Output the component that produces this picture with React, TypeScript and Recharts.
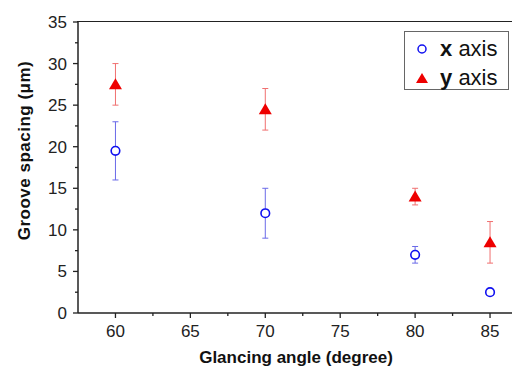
import React from "react";
import { ScatterChart, Scatter, XAxis, YAxis, ErrorBar, Legend, Label } from "recharts";

// glancing angle (degree)
const angles = [60, 70, 80, 85];
// groove spacing (um) measured along each axis, with +/- error
const xAxisSpacing = [19.5, 12, 7, 2.5];
const xAxisError = [3.5, 3, 1, null];
const yAxisSpacing = [27.5, 24.5, 14, 8.5];
const yAxisError = [2.5, 2.5, 1, 2.5];

const angleTicks = [60, 62.5, 65, 67.5, 70, 72.5, 75, 77.5, 80, 82.5, 85];
const spacingTicks = [0, 2.5, 5, 7.5, 10, 12.5, 15, 17.5, 20, 22.5, 25, 27.5, 30, 32.5, 35];

const xData = angles.map((a, i) => ({ angle: a, spacing: xAxisSpacing[i], err: xAxisError[i] }));
const yData = angles.map((a, i) => ({ angle: a, spacing: yAxisSpacing[i], err: yAxisError[i] }));

const BLUE = "#1010f0";
const RED = "#ee0000";
const AXIS = "#222";
const FONT = "'Liberation Sans', Arial, sans-serif";

// chart box
const W = 512;
const H = 359;
const TOP = 14;
const X_AXIS_H = 54;
const Y_AXIS_W = 70;

const BottomTick = (props: any) => {
  const { x, y, payload } = props;
  const major = payload.value % 5 === 0;
  return (
    <g>
      <line x1={x} y1={y} x2={x} y2={y + (major ? 5 : 3)} stroke={AXIS} strokeWidth={1.3} />
      {major && (
        <text x={x} y={y + 23.5} textAnchor="middle" fontSize={17} fontFamily={FONT} fill="#222">
          {payload.value}
        </text>
      )}
    </g>
  );
};

const LeftTick = (props: any) => {
  const { x, y, payload } = props;
  const major = payload.value % 5 === 0;
  return (
    <g>
      <line x1={x} y1={y} x2={x - (major ? 5 : 3)} y2={y} stroke={AXIS} strokeWidth={1.3} />
      {major && (
        <text x={x - 11} y={y + 6} textAnchor="end" fontSize={17} fontFamily={FONT} fill="#222">
          {payload.value}
        </text>
      )}
    </g>
  );
};

const OpenCircle = (props: any) => (
  <circle cx={props.cx} cy={props.cy} r={4.3} fill="#fff" stroke={BLUE} strokeWidth={1.6} />
);

const Triangle = (props: any) => {
  const { cx, cy } = props;
  return <path d={`M${cx},${cy - 6} L${cx + 6.5},${cy + 5} L${cx - 6.5},${cy + 5} Z`} fill={RED} />;
};

const LegendBox = (props: any) => {
  const items = (props.payload || []).filter((it: any) => it.value);
  return (
    <svg width={105} height={59} style={{ display: "block" }}>
      <rect x={0.5} y={0.5} width={104} height={58} fill="#fff" stroke="#666" strokeWidth={1} />
      {items.map((item: any, i: number) => {
        const cy = 18 + i * 29;
        const [first, ...rest] = String(item.value).split(" ");
        return (
          <g key={i}>
            {i === 0 ? (
              <circle cx={18} cy={cy} r={4} fill="#fff" stroke={BLUE} strokeWidth={1.5} />
            ) : (
              <path d={`M18,${cy - 5} L24,${cy + 5} L12,${cy + 5} Z`} fill={RED} />
            )}
            <text x={36} y={cy + 7} fontSize={22} fontFamily={FONT} fill="#111">
              <tspan fontWeight="bold">{first}</tspan> {rest.join(" ")}
            </text>
          </g>
        );
      })}
    </svg>
  );
};

export default function App() {
  return (
    <div style={{ position: "relative", width: W, height: H }}>
      <ScatterChart width={W} height={H} margin={{ top: TOP, right: 0, bottom: 0, left: 0 }}>
        <XAxis
          type="number"
          dataKey="angle"
          domain={[57.5, 87]}
          ticks={angleTicks}
          interval={0}
          height={X_AXIS_H}
          tickSize={0}
          tickMargin={0}
          tick={<BottomTick />}
          axisLine={{ stroke: AXIS, strokeWidth: 1.5 }}
          allowDataOverflow
        >
          <Label
            content={(p: any) => {
              const vb = p.viewBox;
              return (
                <text
                  x={vb.x + vb.width / 2 - 3}
                  y={vb.y + 50}
                  textAnchor="middle"
                  fontSize={17}
                  fontWeight="bold"
                  fontFamily={FONT}
                  fill="#111"
                >
                  Glancing angle (degree)
                </text>
              );
            }}
          />
        </XAxis>
        <YAxis
          type="number"
          dataKey="spacing"
          domain={[0, 35]}
          ticks={spacingTicks}
          interval={0}
          width={Y_AXIS_W}
          tickSize={0}
          tickMargin={0}
          tick={<LeftTick />}
          axisLine={{ stroke: AXIS, strokeWidth: 1.5 }}
          allowDataOverflow
        >
          <Label
            content={(p: any) => {
              const vb = p.viewBox;
              const cx = 16;
              const cy = vb.y + vb.height / 2 - 17;
              return (
                <text
                  x={cx}
                  y={cy}
                  transform={`rotate(-90 ${cx} ${cy})`}
                  textAnchor="middle"
                  dominantBaseline="central"
                  fontSize={17}
                  letterSpacing={0.5}
                  fontWeight="bold"
                  fontFamily={FONT}
                  fill="#111"
                >
                  Groove spacing (μm)
                </text>
              );
            }}
          />
        </YAxis>
        <Legend
          layout="horizontal"
          verticalAlign="middle"
          align="center"
          content={<LegendBox />}
          wrapperStyle={{ left: 396, top: 23, width: 105, height: 59 }}
        />
        <Scatter name="x axis" data={xData} shape={<OpenCircle />} fill={BLUE} isAnimationActive={false}>
          <ErrorBar dataKey="err" direction="y" width={3} stroke="#6a6ae8" strokeWidth={1} />
        </Scatter>
        <Scatter name="y axis" data={yData} shape={<Triangle />} fill={RED} isAnimationActive={false}>
          <ErrorBar dataKey="err" direction="y" width={3} stroke="#f07070" strokeWidth={1} />
        </Scatter>
      </ScatterChart>
      {/* top frame of the plot box */}
      <div
        style={{
          position: "absolute",
          left: Y_AXIS_W - 0.75,
          top: TOP - 0.75,
          width: W - Y_AXIS_W,
          height: 0,
          borderTop: `1.5px solid ${AXIS}`,
          zIndex: 2,
          pointerEvents: "none",
        }}
      />
    </div>
  );
}
